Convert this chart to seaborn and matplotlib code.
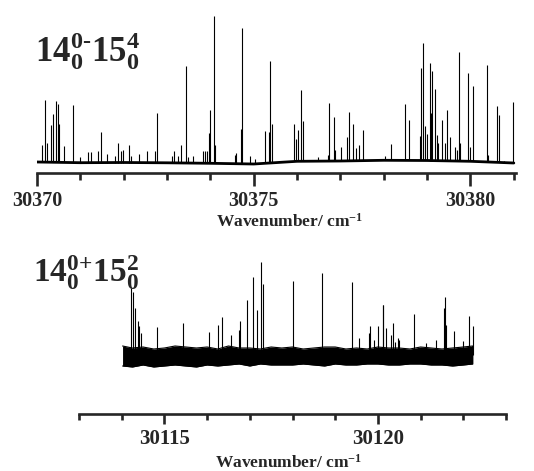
import numpy as np
import pandas as pd
import matplotlib
matplotlib.use("Agg")
import matplotlib.pyplot as plt
from matplotlib.ticker import MultipleLocator
import seaborn as sns

# ---- upper spectrum 14_0^0-15_0^4 : line positions (cm-1) and heights (a.u.) ----
top_pos = [30370.12, 30370.19, 30370.22, 30370.32, 30370.38, 30370.44, 30370.48, 30370.51,
           30370.63, 30370.82, 30370.99, 30371.18, 30371.24, 30371.40, 30371.47, 30371.62,
           30371.80, 30371.87, 30371.93, 30371.99, 30372.12, 30372.18, 30372.36, 30372.53,
           30372.73, 30372.77, 30373.11, 30373.16, 30373.26, 30373.33, 30373.43, 30373.49,
           30373.59, 30373.83, 30373.88, 30373.92, 30373.96, 30373.99, 30374.08, 30374.10,
           30374.56, 30374.60, 30374.71, 30374.73, 30374.92, 30375.02, 30375.27, 30375.35,
           30375.38, 30375.42, 30375.93, 30375.97, 30376.01, 30376.08, 30376.14, 30376.48,
           30376.71, 30376.74, 30376.84, 30376.87, 30377.01, 30377.14, 30377.20, 30377.28,
           30377.37, 30377.43, 30377.51, 30378.02, 30378.16, 30378.49, 30378.58, 30378.84,
           30378.86, 30378.90, 30378.96, 30378.99, 30379.06, 30379.10, 30379.12, 30379.19,
           30379.23, 30379.26, 30379.34, 30379.42, 30379.46, 30379.53, 30379.64, 30379.70,
           30379.74, 30379.76, 30379.95, 30379.98, 30380.05, 30380.38, 30380.41, 30380.62,
           30380.65, 30380.78, 30380.99]
top_int = [17, 62, 19, 37, 48, 61, 58, 38,
           16, 58, 6, 11, 11, 12, 31, 9,
           7, 20, 12, 13, 18, 7, 9, 12,
           12, 50, 7, 12, 7, 18, 97, 6,
           7, 12, 12, 12, 30, 53, 147, 18,
           9, 11, 35, 136, 8, 5, 32, 31,
           102, 39, 37, 22, 31, 71, 40, 4,
           6, 58, 44, 11, 14, 24, 49, 37,
           13, 16, 31, 4, 16, 56, 40, 24,
           92, 117, 34, 26, 98, 48, 90, 72,
           26, 18, 41, 18, 51, 24, 14, 11,
           109, 18, 88, 14, 75, 97, 7, 56,
           47, 2, 61]
# slow baseline drift of the upper trace
top_base_x = [30370, 30371, 30372, 30373, 30374, 30375, 30376, 30377, 30378, 30379, 30380, 30381]
top_base_y = [0, -0.7, -0.5, -0.8, -1.3, -2.0, 0.7, 1.0, 1.7, 1.5, 0.7, -1.0]

# ---- lower spectrum 14_0^0+15_0^2 ----
bot_pos = [30114.22, 30114.27, 30114.32, 30114.38, 30114.41, 30114.45, 30114.83, 30115.44,
           30116.04, 30116.26, 30116.36, 30116.57, 30116.75, 30116.78, 30116.93, 30117.07,
           30117.17, 30117.27, 30117.32, 30118.02, 30118.70, 30119.40, 30119.56, 30119.80,
           30119.82, 30119.90, 30120.01, 30120.11, 30120.13, 30120.19, 30120.30, 30120.35,
           30120.40, 30120.46, 30120.50, 30120.85, 30121.13, 30121.36, 30121.54, 30121.57,
           30121.60, 30121.78, 30122.00, 30122.14, 30122.23]
bot_int = [67, 63, 47, 34, 29, 22, 28, 32,
           23, 30, 38, 20, 25, 34, 55, 78,
           45, 93, 71, 74, 82, 73, 17, 22,
           29, 15, 29, 50, 50, 27, 20, 32,
           13, 17, 15, 41, 12, 15, 47, 58,
           30, 24, 14, 39, 29]
# envelope of the noise band of the lower trace
bot_noise_x = [30114.02, 30114.25, 30114.5, 30114.75, 30115.0, 30115.25, 30115.5, 30115.75,
               30116.0, 30116.25, 30116.5, 30116.75, 30117.0, 30117.25, 30117.5, 30117.75,
               30118.0, 30118.25, 30118.5, 30118.75, 30119.0, 30119.25, 30119.5, 30119.75,
               30120.0, 30120.25, 30120.5, 30120.75, 30121.0, 30121.25, 30121.5, 30121.75,
               30122.0, 30122.22]
bot_noise_hi = [9, 7, 8, 6, 7, 9, 8, 7, 8, 6, 9, 7, 7, 6, 8, 7,
                8, 6, 7, 8, 8, 6, 7, 6, 8, 7, 7, 6, 8, 7, 6, 7, 8, 9]
bot_noise_lo = [-11, -12, -10, -12, -11, -10, -11, -12, -10, -11, -10, -9, -11, -9, -10, -10,
                -10, -9, -10, -11, -9, -10, -10, -9, -9, -10, -10, -9, -9, -10, -10, -11, -10, -9]

sns.set_style("ticks")
plt.rcParams['font.family'] = ['Liberation Serif', 'DejaVu Serif']
plt.rcParams['font.weight'] = 'bold'
plt.rcParams['mathtext.fontset'] = 'custom'
plt.rcParams['mathtext.rm'] = 'Liberation Serif:bold'
plt.rcParams['mathtext.it'] = 'Liberation Serif:bold'
plt.rcParams['mathtext.bf'] = 'Liberation Serif:bold'

fig = plt.figure(figsize=(5.34, 4.71), dpi=100)
ax1 = fig.add_axes([37 / 534, 1 - 173 / 471, 479 / 534, 158 / 471])
ax2 = fig.add_axes([79 / 534, 57 / 471, 427 / 534, 152 / 471])

# upper trace
base1 = pd.DataFrame({'x': top_base_x, 'y': top_base_y})
sns.lineplot(data=base1, x='x', y='y', ax=ax1, color='black', lw=2.0)
b_at = np.interp(top_pos, top_base_x, top_base_y)
ax1.vlines(top_pos, b_at, b_at + np.array(top_int), color='black', lw=0.8)
ax1.set_xlim(30370, 30381.05)
ax1.set_ylim(-11, 147)
ax1.set_xticks([30370, 30375, 30380])
ax1.xaxis.set_minor_locator(MultipleLocator(1))
ax1.tick_params(axis='x', which='major', length=9.5, width=1.9, labelsize=14.5, pad=3.5, direction='out')
ax1.tick_params(axis='x', which='minor', length=5, width=1.9, direction='out')

# lower trace
ax2.fill_between(bot_noise_x, bot_noise_lo, bot_noise_hi, color='black', lw=0)
noise = pd.DataFrame({'x': bot_noise_x + bot_noise_x[::-1],
                      'y': bot_noise_hi + bot_noise_lo[::-1]})
sns.lineplot(data=noise, x='x', y='y', ax=ax2, sort=False, estimator=None, color='black', lw=0.8)
ax2.vlines(bot_pos, 0, bot_int, color='black', lw=0.8)
ax2.set_xlim(30113, 30123)
ax2.set_ylim(-59, 93)
ax2.set_xticks([30115, 30120])
ax2.xaxis.set_minor_locator(MultipleLocator(1))
ax2.tick_params(axis='x', which='major', length=7, width=1.9, labelsize=15, pad=4, direction='out')
ax2.tick_params(axis='x', which='minor', length=4.5, width=1.9, direction='out')

for ax in (ax1, ax2):
    sns.despine(ax=ax, left=True)
    ax.spines['bottom'].set_linewidth(1.9)
    ax.set_yticks([])
    ax.set_ylabel('')
    ax.set_xlabel(r'Wavenumber/ cm$^{-1}$', fontsize=12.5, fontweight='bold')
    for lab in ax.get_xticklabels():
        lab.set_fontweight('bold')

ax1.xaxis.set_label_coords(0.528, -0.25)
ax2.xaxis.set_label_coords(0.492, -0.265)

fig.text(35 / 534, 1 - 61 / 471, r'$14_0^{0\text{-}}15_0^4$', fontsize=25, va='baseline')
fig.text(33 / 534, 1 - 282 / 471, r'$14_0^{0\text{+}}15_0^2$', fontsize=24, va='baseline')

fig.savefig('out.png', dpi=100)
